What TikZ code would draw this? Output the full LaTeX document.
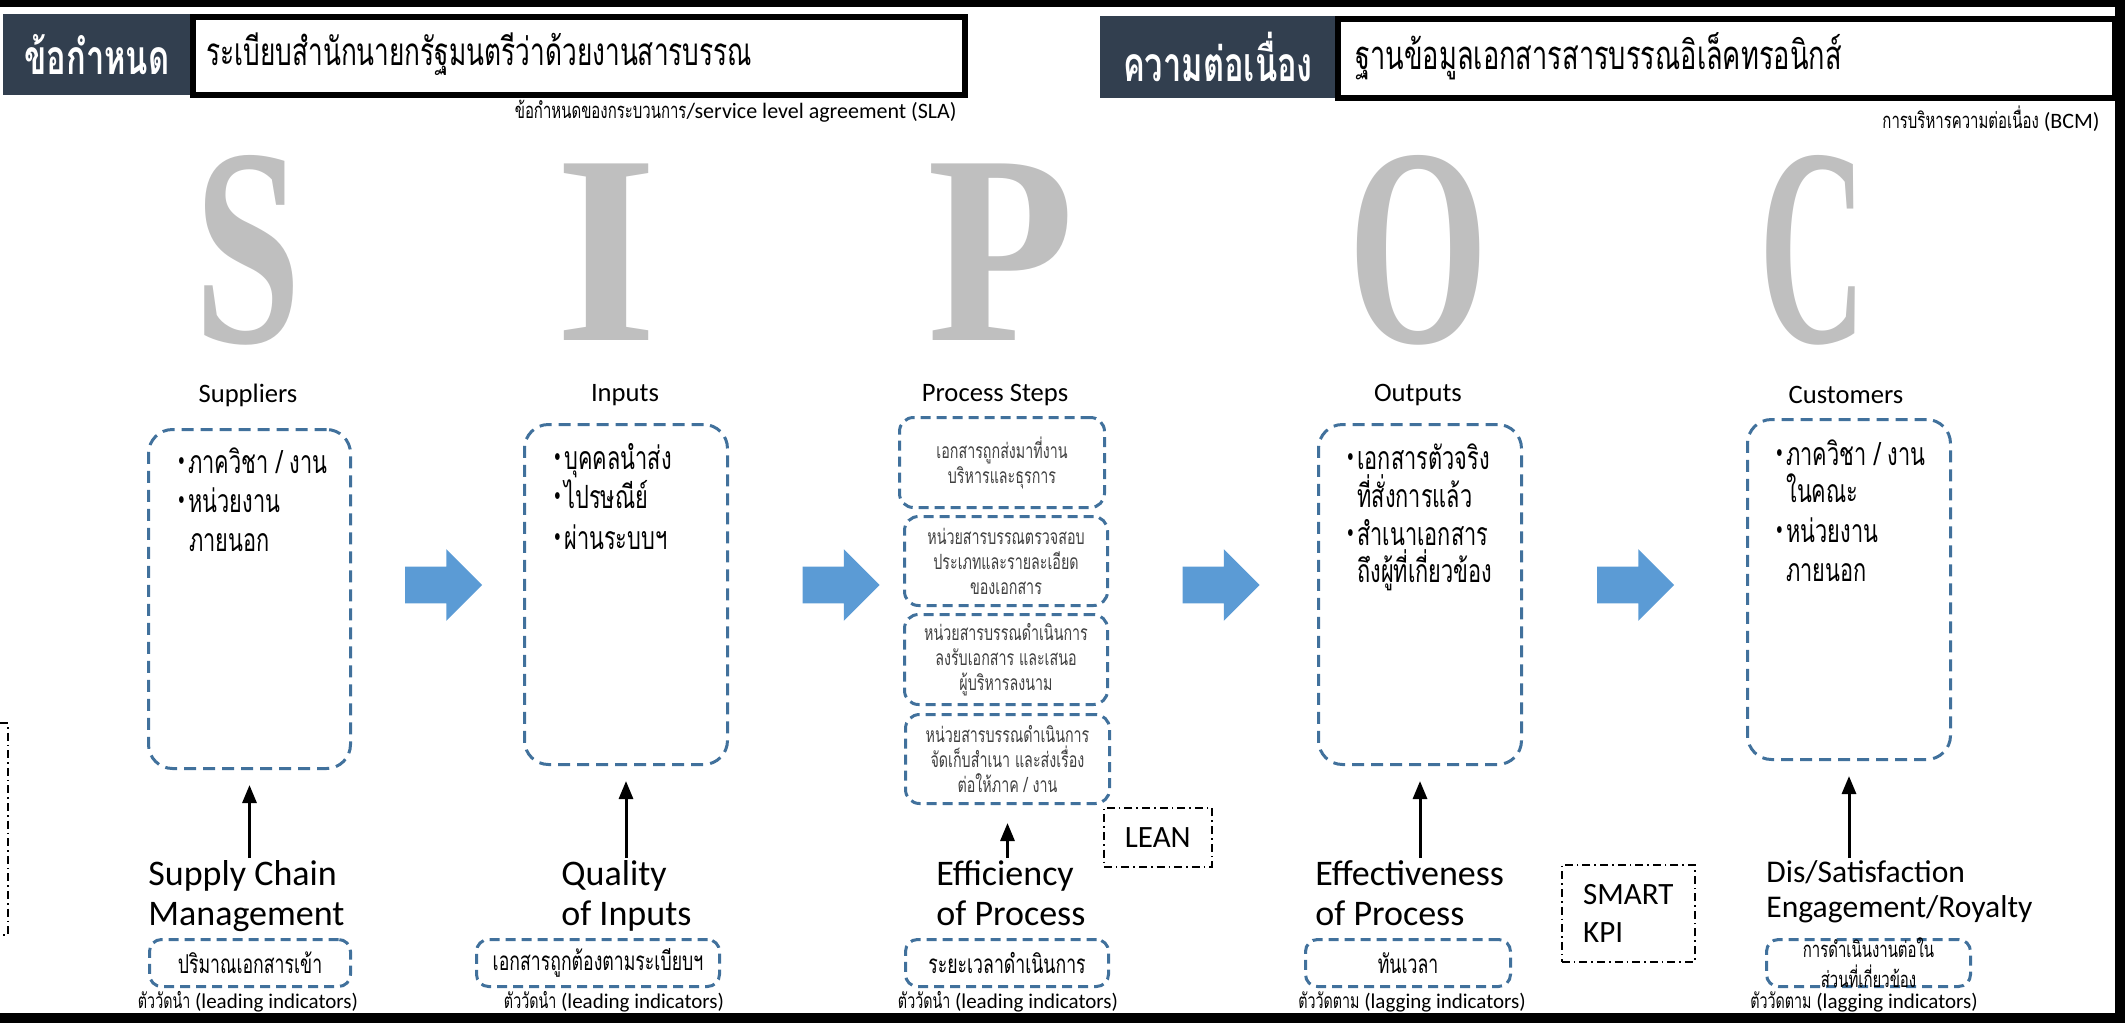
\documentclass[tikz,border=0pt]{standalone}
\usepackage{fontspec}
\setmainfont{Carlito}
\newfontfamily\thai[Script=Thai,FakeStretch=0.68]{Loma}
\newfontfamily\lettfont{Liberation Serif}
\usetikzlibrary{shapes.arrows,arrows.meta}
\definecolor{boxblue}{RGB}{65,113,156}
\definecolor{arrowblue}{RGB}{91,155,213}
\definecolor{hdark}{RGB}{50,63,79}
\definecolor{lettergray}{RGB}{191,191,191}
\newcommand\thtxt[1]{{\thai #1}}
\newcommand\bul{\makebox[5pt][l]{\raisebox{3pt}{\fontsize{10}{10}\selectfont\textbullet}}}
\tikzset{
  bigbox/.style={draw=boxblue, line width=1.5pt, dash pattern=on 6pt off 3.5pt, rounded corners=12pt, anchor=north west, inner sep=0pt},
  procbox/.style={draw=boxblue, line width=1.5pt, dash pattern=on 5pt off 3pt, rounded corners=7pt, anchor=north west, inner sep=0pt, align=center, text=black!75, font=\thai\fontsize{10.5}{12.5}\selectfont},
  mbox/.style={draw=boxblue, line width=1.5pt, dash pattern=on 5pt off 3pt, rounded corners=6pt, anchor=north west, inner sep=0pt, minimum height=23.5pt, font=\thai\fontsize{13}{15}\selectfont},
  barrow/.style={single arrow, fill=arrowblue, draw=none, minimum height=38.5pt, minimum width=35.5pt, single arrow head extend=8.75pt, inner xsep=0pt, inner ysep=9pt},
  ddbox/.style={draw=black, line width=0.8pt, dash pattern=on 4pt off 2pt on 0.8pt off 2pt},
  uparr/.style={line width=1.5pt, -{Triangle[length=9pt,width=7pt]}},
  coltitle/.style={font=\fontsize{13.3}{16}\selectfont, inner sep=0pt},
  biglbl/.style={font=\fontsize{18}{20}\selectfont, align=left, anchor=north west, inner sep=1pt},
  bline/.style={font=\thai\fontsize{16}{19}\selectfont, anchor=base west, inner sep=0pt},
  capt/.style={font=\fontsize{10.5}{12}\selectfont, inner sep=0pt},
  letter/.style={text=lettergray, inner sep=0pt, font=\lettfont\bfseries},
  hdarkbox/.style={fill=hdark, text=white, anchor=north west, inner sep=0pt, font=\thai\bfseries\fontsize{24}{28}\selectfont},
  hwhitebox/.style={draw=black, line width=3pt, fill=white, anchor=north west, inner sep=0pt},
  htext/.style={font=\thai\fontsize{20}{24}\selectfont, anchor=west, inner sep=0pt},
  hsub/.style={font=\fontsize{11}{13}\selectfont, anchor=east, inner sep=0pt}
}
\begin{document}
\begin{tikzpicture}[x=0.5pt,y=-0.5pt]
\useasboundingbox (0,0) rectangle (2125,1023);
% frame
\fill[black] (0,0) rectangle (2125,7);
\fill[black] (2115,0) rectangle (2125,1023);
\fill[black] (0,1013) rectangle (2125,1023);
% left partial dash-dot box
\draw[ddbox] (0,723) -- (8,723) -- (8,935) -- (0,935);

% header left
\node[hwhitebox, minimum width=386pt, minimum height=39pt] (hlw) at (190,14) {};
\node[hdarkbox, minimum width=93.5pt, minimum height=40.5pt] (hld) at (3,14) {ข้อกำหนด};
\node[htext, font=\thai\fontsize{19.3}{24}\selectfont] (hlt) at (206,54) {ระเบียบสำนักนายกรัฐมนตรีว่าด้วยงานสารบรรณ};
\node[hsub] (hls) at (957,111) {\thtxt{ข้อกำหนดของกระบวนการ}/service level agreement (SLA)};
% header right
\node[hwhitebox, minimum width=388.5pt, minimum height=39.5pt] (hrw) at (1335,16) {};
\node[hdarkbox, minimum width=117.5pt, minimum height=41pt] (hrd) at (1100,16) {ความต่อเนื่อง};
\node[htext] (hrt) at (1355,56) {ฐานข้อมูลเอกสารสารบรรณอิเล็คทรอนิกส์};
\node[hsub] (hrs) at (2100,119) {\thtxt{การบริหารความต่อเนื่อง} (BCM)};

% big letters
\node[letter] (LS) at (248.5,250) {\resizebox{53.5pt}{93.5pt}{S}};
\node[letter] (LI) at (607,252.5) {\resizebox{51pt}{88.3pt}{I}};
\node[letter] (LP) at (1001.5,252.5) {\resizebox{73.5pt}{88.3pt}{P}};
\node[letter] (LO) at (1419,250) {\resizebox{70pt}{93.5pt}{O}};
\node[letter] (LC) at (1813,250) {\resizebox{53.5pt}{93.5pt}{C}};

% column titles
\node[coltitle] (tS) at (248,395) {Suppliers};
\node[coltitle] (tI) at (625,395) {Inputs};
\node[coltitle] (tP) at (995,395) {Process Steps};
\node[coltitle] (tO) at (1418,395) {Outputs};
\node[coltitle] (tC) at (1846,395) {Customers};

% main boxes
\node[bigbox, minimum width=101pt, minimum height=169.5pt] (sup) at (147,428) {};
\node[bigbox, minimum width=101.5pt, minimum height=170pt] (inp) at (523,423) {};
\node[bigbox, minimum width=101.5pt, minimum height=170pt] (out) at (1317,423) {};
\node[bigbox, minimum width=101.5pt, minimum height=170pt] (cus) at (1746,418) {};

% process boxes
\node[procbox, minimum width=102.5pt, minimum height=45pt] (p1) at (898,416) {เอกสารถูกส่งมาที่งาน\\บริหารและธุรการ};
\node[procbox, minimum width=101.5pt, minimum height=44.5pt] (p2) at (903,515) {หน่วยสารบรรณตรวจสอบ\\ประเภทและรายละเอียด\\ของเอกสาร};
\node[procbox, minimum width=101.5pt, minimum height=45pt] (p3) at (903,613) {หน่วยสารบรรณดำเนินการ\\ลงรับเอกสาร และเสนอ\\ผู้บริหารลงนาม};
\node[procbox, minimum width=102pt, minimum height=44.5pt] (p4) at (904,713) {หน่วยสารบรรณดำเนินการ\\จัดเก็บสำเนา และส่งเรื่อง\\ต่อให้ภาค / งาน};

% bullet texts
\node[bline] (s1) at (178,473) {\bul ภาควิชา / งาน};
\node[bline] (s2) at (178,512) {\bul หน่วยงาน};
\node[bline] (s3) at (189,551) {ภายนอก};
\node[bline] (i1) at (554,469) {\bul บุคคลนำส่ง};
\node[bline] (i2) at (554,508) {\bul ไปรษณีย์};
\node[bline] (i3) at (554,549) {\bul ผ่านระบบฯ};
\node[bline] (o1) at (1347,469) {\bul เอกสารตัวจริง};
\node[bline] (o2) at (1357,507) {ที่สั่งการแล้ว};
\node[bline] (o3) at (1347,545) {\bul สำเนาเอกสาร};
\node[bline] (o4) at (1357,582) {ถึงผู้ที่เกี่ยวข้อง};
\node[bline] (c1) at (1776,465) {\bul ภาควิชา / งาน};
\node[bline] (c2) at (1786,502) {ในคณะ};
\node[bline] (c3) at (1776,542) {\bul หน่วยงาน};
\node[bline] (c4) at (1786,581) {ภายนอก};

% block arrows
\node[barrow] (a1) at (434.5,585) {};
\node[barrow] (a2) at (832,585) {};
\node[barrow] (a3) at (1212,585) {};
\node[barrow] (a4) at (1626.5,585) {};

% measure labels
\node[biglbl] (lS) at (146,858) {Supply Chain\\Management};
\node[biglbl] (lI) at (559,858) {Quality\\of Inputs};
\node[biglbl] (lP) at (934,858) {Efficiency\\of Process};
\node[biglbl] (lO) at (1313,858) {Effectiveness\\of Process};
\node[biglbl, font=\fontsize{15.8}{17.5}\selectfont] (lC) at (1764,858) {Dis/Satisfaction\\Engagement/Royalty};

% up arrows
\draw[uparr, shorten >=7.5pt] (sup.south |- lS.north) -- (sup.south);
\draw[uparr, shorten >=7.5pt] (inp.south |- lI.north) -- (inp.south);
\draw[uparr, shorten >=9pt] (p4.south |- lP.north) -- (p4.south);
\draw[uparr, shorten >=7.5pt] (out.south |- lO.north) -- (out.south);
\draw[uparr, shorten >=7.5pt] (cus.south |- lC.north) -- (cus.south);

% LEAN / SMART KPI
\node[ddbox, minimum width=54pt, minimum height=29.5pt, anchor=north west, font=\fontsize{15.5}{19}\selectfont] (lean) at (1103,807) {LEAN};
\node[ddbox, minimum width=66.5pt, minimum height=48.5pt, anchor=north west, align=left, font=\fontsize{15.5}{19}\selectfont] (kpi) at (1561,864) {SMART\\KPI};

% metric boxes
\node[mbox, minimum width=100.5pt] (m1) at (148,938) {ปริมาณเอกสารเข้า};
\node[mbox, minimum width=121.5pt] (m2) at (475,938) {เอกสารถูกต้องตามระเบียบฯ};
\node[mbox, minimum width=101.5pt] (m3) at (904,938) {ระยะเวลาดำเนินการ};
\node[mbox, minimum width=102.5pt] (m4) at (1304,938) {ทันเวลา};
\node[mbox, minimum width=102pt] (m5) at (1765,938) {};
\node[align=center, inner sep=0pt, font=\thai\fontsize{11}{15}\selectfont] (m5t) at (m5.center) {การดำเนินงานต่อใน\\ส่วนที่เกี่ยวข้อง};

% captions
\node[capt] (k1) at (248,1002) {\thtxt{ตัววัดนำ} (leading indicators)};
\node[capt] (k2) at (614,1002) {\thtxt{ตัววัดนำ} (leading indicators)};
\node[capt] (k3) at (1008,1002) {\thtxt{ตัววัดนำ} (leading indicators)};
\node[capt] (k4) at (1412,1002) {\thtxt{ตัววัดตาม} (lagging indicators)};
\node[capt] (k5) at (1864,1002) {\thtxt{ตัววัดตาม} (lagging indicators)};
\end{tikzpicture}
\end{document}
